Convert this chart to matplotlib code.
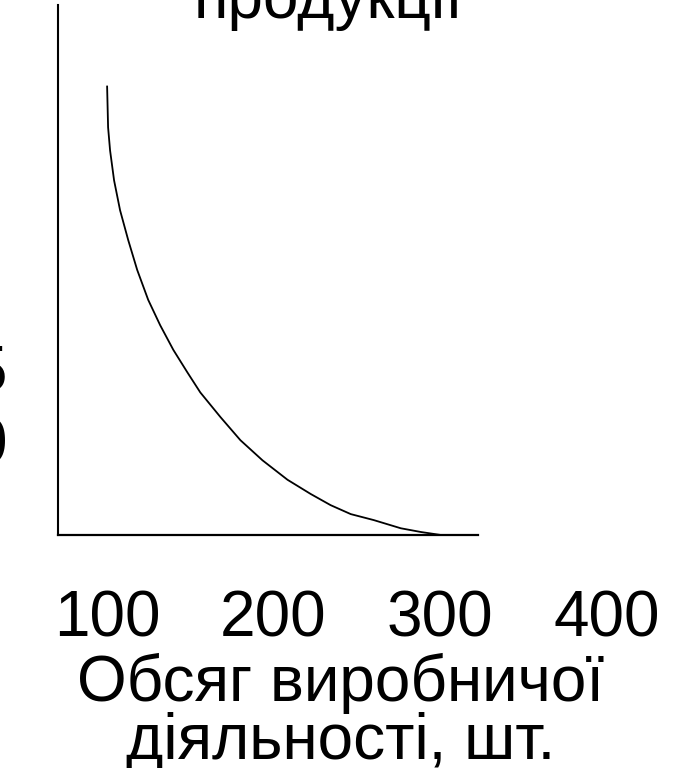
import matplotlib
matplotlib.use("Agg")
import matplotlib.pyplot as plt

plt.rcParams["font.family"] = ["Liberation Sans", "DejaVu Sans"]

# ==========================
# Data
# ==========================

volume = [100, 100.6, 101.8, 104.2, 107.8, 112.7, 118.1, 124.7, 131.9, 139.8,
          148.2, 156.0, 168.1, 180.1, 193.4, 208.4, 222.3, 234.3, 246.4,
          260.2, 276.5, 288.6, 300.6]
unit_cost = [60.2, 54.6, 51.5, 47.5, 43.5, 39.5, 35.5, 31.5, 28.1, 24.8,
             21.8, 19.1, 15.8, 12.7, 10.0, 7.4, 5.5, 4.0, 2.8,
             2.0, 0.9, 0.4, 0]

x_ticks = [100, 200, 300, 400]
x_tick_labels = ["100", "200", "300", "400"]

y_ticks = [22.5, 12.7]
y_tick_labels = ["5", "0"]

title_text = "продукції"
x_label = "Обсяг виробничої\nдіяльності, шт."

# ==========================
# Figure
# ==========================

W, H = 679, 768
fig = plt.figure(figsize=(W / 100, H / 100), dpi=100)
ax = fig.add_axes([58 / W, 1 - 535 / H, (623 - 58) / W, (535 - 5) / H])

ax.plot(volume, unit_cost, color="black", linewidth=1.3,
        solid_joinstyle="round", solid_capstyle="butt")

ax.set_xlim(70.5, 410)
ax.set_ylim(0, 71)

for side in ["top", "right"]:
    ax.spines[side].set_visible(False)
ax.spines["left"].set_linewidth(1.5)
ax.spines["bottom"].set_linewidth(1.6)
ax.spines["bottom"].set_bounds(70.5, 323)

ax.set_xticks(x_ticks)
ax.set_xticklabels(x_tick_labels)
ax.set_yticks(y_ticks)
ax.set_yticklabels(y_tick_labels)
ax.tick_params(axis="x", length=0, pad=39, labelsize=46)
ax.tick_params(axis="y", length=0, pad=37, labelsize=46)

ax.set_xlabel(x_label, fontsize=46, linespacing=0.95, va="top")
ax.xaxis.set_label_coords(0.5, -0.222)

fig.text(329 / W, 1 - 18 / H, title_text, fontsize=46, ha="center", va="baseline")

fig.savefig("out.png", dpi=100, facecolor="white")
